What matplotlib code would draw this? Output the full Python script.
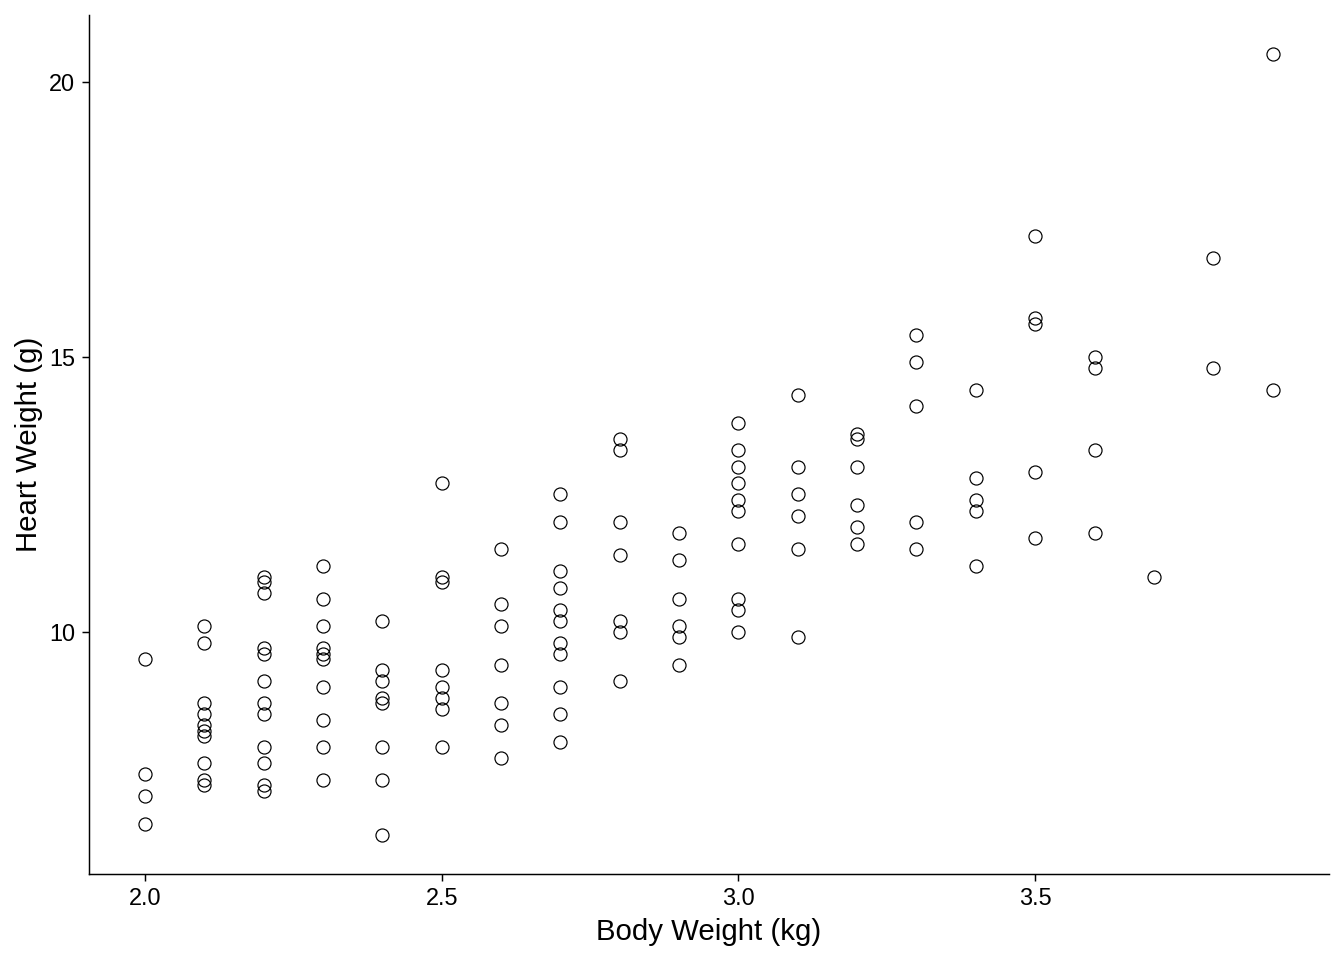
import matplotlib
matplotlib.use("Agg")
import matplotlib.pyplot as plt

# body weight (kg) and heart weight (g)
bwt = [2.0, 2.0, 2.0, 2.0,
       2.1, 2.1, 2.1, 2.1, 2.1, 2.1, 2.1, 2.1, 2.1, 2.1,
       2.2, 2.2, 2.2, 2.2, 2.2, 2.2, 2.2, 2.2, 2.2, 2.2, 2.2, 2.2,
       2.3, 2.3, 2.3, 2.3, 2.3, 2.3, 2.3, 2.3, 2.3, 2.3,
       2.4, 2.4, 2.4, 2.4, 2.4, 2.4, 2.4, 2.4,
       2.5, 2.5, 2.5, 2.5, 2.5, 2.5, 2.5, 2.5,
       2.6, 2.6, 2.6, 2.6, 2.6, 2.6, 2.6,
       2.7, 2.7, 2.7, 2.7, 2.7, 2.7, 2.7, 2.7, 2.7, 2.7, 2.7,
       2.8, 2.8, 2.8, 2.8, 2.8, 2.8, 2.8,
       2.9, 2.9, 2.9, 2.9, 2.9, 2.9,
       3.0, 3.0, 3.0, 3.0, 3.0, 3.0, 3.0, 3.0, 3.0, 3.0,
       3.1, 3.1, 3.1, 3.1, 3.1, 3.1,
       3.2, 3.2, 3.2, 3.2, 3.2, 3.2,
       3.3, 3.3, 3.3, 3.3, 3.3,
       3.4, 3.4, 3.4, 3.4, 3.4,
       3.5, 3.5, 3.5, 3.5, 3.5,
       3.6, 3.6, 3.6, 3.6,
       3.7,
       3.8, 3.8,
       3.9, 3.9]

hwt = [9.5, 7.4, 7.0, 6.5,
       10.1, 9.8, 8.7, 8.5, 8.3, 8.2, 8.1, 7.6, 7.3, 7.2,
       11.0, 10.9, 10.7, 9.7, 9.6, 9.1, 8.7, 8.5, 7.9, 7.6, 7.2, 7.1,
       11.2, 10.6, 10.1, 9.7, 9.6, 9.5, 9.0, 8.4, 7.9, 7.3,
       10.2, 9.3, 9.1, 8.8, 8.7, 7.9, 7.3, 6.3,
       12.7, 11.0, 10.9, 9.3, 9.0, 8.8, 8.6, 7.9,
       11.5, 10.5, 10.1, 9.4, 8.7, 8.3, 7.7,
       12.5, 12.0, 11.1, 10.8, 10.4, 10.2, 9.8, 9.6, 9.0, 8.5, 8.0,
       13.5, 13.3, 12.0, 11.4, 10.2, 10.0, 9.1,
       11.8, 11.3, 10.6, 10.1, 9.9, 9.4,
       13.8, 13.3, 13.0, 12.7, 12.4, 12.2, 11.6, 10.6, 10.4, 10.0,
       14.3, 13.0, 12.5, 12.1, 11.5, 9.9,
       13.6, 13.5, 13.0, 12.3, 11.9, 11.6,
       15.4, 14.9, 14.1, 12.0, 11.5,
       14.4, 12.8, 12.4, 12.2, 11.2,
       17.2, 15.7, 15.6, 12.9, 11.7,
       15.0, 14.8, 13.3, 11.8,
       11.0,
       16.8, 14.8,
       20.5, 14.4]

x_ticks = [2.0, 2.5, 3.0, 3.5]
x_tick_labels = ["2.0", "2.5", "3.0", "3.5"]
y_ticks = [10, 15, 20]

plt.rcParams['font.family'] = ['Liberation Sans', 'DejaVu Sans']

fig = plt.figure(figsize=(7, 5), dpi=192)
ax = fig.add_axes([0.0659, 0.0896, 0.9229, 0.8944])

ax.plot(bwt, hwt, linestyle='none', marker='o', markersize=4.9,
        markerfacecolor='none', markeredgecolor='black', markeredgewidth=0.45)

xr = max(bwt) - min(bwt)
yr = max(hwt) - min(hwt)
ax.set_xlim(min(bwt) - 0.05 * xr, max(bwt) + 0.05 * xr)
ax.set_ylim(min(hwt) - 0.05 * yr, max(hwt) + 0.05 * yr)

ax.set_xticks(x_ticks)
ax.set_xticklabels(x_tick_labels)
ax.set_yticks(y_ticks)

for side in ['top', 'right']:
    ax.spines[side].set_visible(False)
for side in ['left', 'bottom']:
    ax.spines[side].set_linewidth(0.55)
    ax.spines[side].set_color('black')

ax.tick_params(axis='both', length=2.75, width=0.55, color='black',
               labelsize=8.8, labelcolor='black', pad=2.2)

ax.set_xlabel('Body Weight (kg)', fontsize=11, labelpad=3)
ax.set_ylabel('Heart Weight (g)', fontsize=11, labelpad=2.5)

fig.savefig('out.png', dpi=192)
